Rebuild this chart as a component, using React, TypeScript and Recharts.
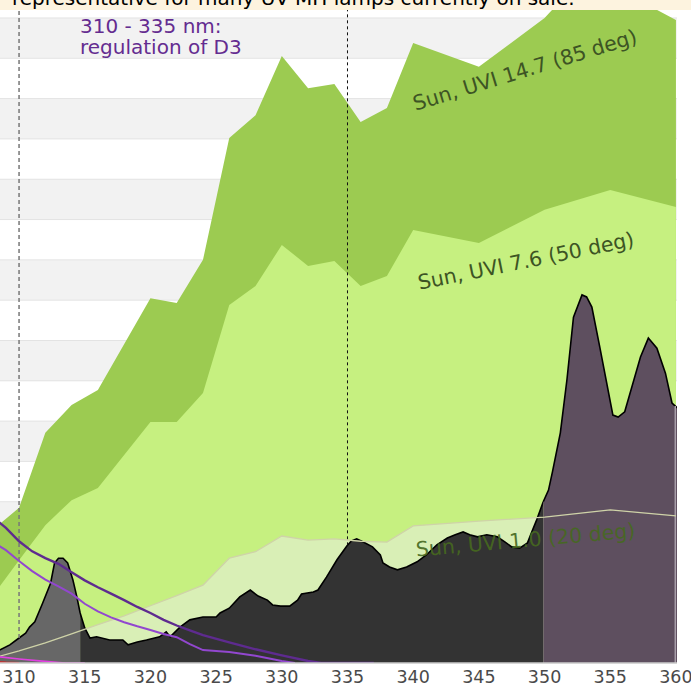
import React from "react";
import { ComposedChart, Area, Line, XAxis, YAxis, CartesianGrid, ReferenceLine } from "recharts";

// wavelength ticks (nm) and the hidden y grid (one band per unit)
const xTicks = [310, 315, 320, 325, 330, 335, 340, 345, 350, 355, 360];
const yTicks = [0, 1, 2, 3, 4, 5, 6, 7, 8, 9, 10, 11, 12, 13, 14, 15, 16];

// sun spectra
const sunHighNm = [308, 310, 312, 314, 316, 320, 322, 324, 326, 328, 330, 332, 334, 336, 338, 340, 345, 350, 352, 355, 358, 360];
const sunHighVal = [3.3, 3.85, 5.71, 6.4, 6.77, 9.05, 8.93, 10.0, 13.02, 13.59, 15.06, 14.26, 14.36, 13.42, 13.77, 15.38, 14.79, 16.0, 16.7, 17.0, 16.3, 15.95];

const sunMidNm = [308, 310, 312, 314, 316, 320, 322, 324, 326, 328, 330, 332, 334, 336, 338, 340, 345, 350, 355, 360];
const sunMidVal = [1.67, 2.55, 3.42, 4.04, 4.34, 5.98, 5.98, 6.7, 8.88, 9.35, 10.37, 9.85, 9.97, 9.35, 9.6, 10.74, 10.42, 11.24, 11.73, 11.31];

const sunLowNm = [308, 310, 312, 314, 316, 318, 320, 322, 324, 326, 328, 330, 332, 334, 336, 338, 340, 345, 350, 355, 360];
const sunLowVal = [0.12, 0.3, 0.5, 0.72, 0.95, 1.17, 1.42, 1.67, 1.93, 2.6, 2.76, 3.15, 3.05, 3.08, 3.02, 3.0, 3.4, 3.52, 3.62, 3.8, 3.65];

// UV-MH lamp spectrum
const lampNm = [
  308, 308.5, 309.3, 310, 310.5, 310.8, 311.2, 311.8, 312.4, 312.7, 313, 313.35, 313.7, 314.1, 314.4, 314.65,
  315, 315.4, 315.9, 316.9, 317.9, 318.3, 319, 319.7, 320.7, 321.2, 321.5, 322.25, 323, 324, 325, 325.3, 326,
  326.8, 327.6, 328.2, 328.9, 329.3, 329.9, 330.6, 331.2, 331.5, 332.4, 332.75, 333.4, 334.2, 334.95, 335.3,
  335.7, 336.2, 336.9, 337.5, 337.7, 338.2, 338.8, 339.5, 340.3, 341, 341.8, 342.6, 343.2, 343.8, 344.3, 344.9,
  345.6, 346.4, 347, 347.5, 348.1, 348.7, 349, 349.4, 349.9, 350.3, 350.6, 351.2, 351.7, 352.2, 352.85, 353.2,
  353.6, 354.2, 355.2, 355.6, 356.1, 357.3, 357.9, 358.55, 359.2, 359.7, 360.1,
];
const lampVal = [
  0.25, 0.32, 0.45, 0.62, 0.74, 0.89, 1.02, 1.49, 1.98, 2.48, 2.6, 2.6, 2.48, 2.06, 1.64, 1.24,
  0.87, 0.62, 0.65, 0.57, 0.57, 0.45, 0.52, 0.57, 0.65, 0.77, 0.65, 0.89, 1.07, 1.14, 1.14, 1.24, 1.36,
  1.64, 1.81, 1.66, 1.56, 1.44, 1.41, 1.41, 1.56, 1.71, 1.76, 1.81, 2.13, 2.56, 2.9, 3.03,
  3.08, 3.0, 2.88, 2.68, 2.48, 2.38, 2.31, 2.38, 2.51, 2.68, 2.93, 3.1, 3.18, 3.25, 3.18, 3.13,
  3.18, 3.13, 3.0, 2.88, 2.85, 2.98, 3.23, 3.55, 4.0, 4.29, 4.74, 5.71, 7.02, 8.58, 9.13, 9.08,
  8.83, 7.84, 6.15, 6.1, 6.23, 7.59, 8.06, 7.81, 7.19, 6.45, 6.33,
];

// action spectra
const actionANm = [308, 309, 310, 311, 312, 313, 314, 315, 316, 317, 318, 319, 320, 321, 322, 323, 324, 326, 328, 330, 332, 333, 337];
const actionAVal = [3.62, 3.35, 3.02, 2.77, 2.6, 2.46, 2.25, 2.05, 1.88, 1.72, 1.56, 1.39, 1.24, 1.07, 0.93, 0.81, 0.69, 0.51, 0.34, 0.19, 0.05, 0, 0];
const actionBNm = [308, 309, 310, 311, 312, 313, 314, 315, 316, 317, 318, 319, 320, 321, 322, 323, 324, 326, 328, 330, 331];
const actionBVal = [3.0, 2.8, 2.53, 2.28, 2.07, 1.9, 1.72, 1.47, 1.28, 1.13, 1.01, 0.91, 0.82, 0.72, 0.64, 0.47, 0.32, 0.27, 0.18, 0.05, 0];
const actionCNm = [308, 310, 312, 313.5, 315];
const actionCVal = [0.17, 0.1, 0.04, 0, 0];
const actionDNm = [308, 309, 310];
const actionDVal = [0.03, 0.01, 0];

const X_DOMAIN: [number, number] = [308.55, 360.08];
const Y_TOP = 16.446;
const UVB_END = 314.65;
const UVA_END = 349.9;

const pts = (nm: number[], v: number[]) => nm.map((x, i) => ({ nm: x, v: v[i] }));

const lampAll = pts(lampNm, lampVal);
const lampUvb = lampAll.filter((d) => d.nm <= UVB_END);
const lampUva = lampAll.filter((d) => d.nm >= UVB_END && d.nm <= UVA_END);
const lampUva1 = lampAll.filter((d) => d.nm >= UVA_END);

function lampAt(x: number) {
  for (let i = 1; i < lampAll.length; i++) {
    const a = lampAll[i - 1];
    const b = lampAll[i];
    if (x >= a.nm && x <= b.nm) return a.v + ((b.v - a.v) * (x - a.nm)) / (b.nm - a.nm);
  }
  return 0;
}

const FONT = "'DejaVu Sans', Verdana, sans-serif";

export default function App() {
  return (
    <div style={{ position: "relative", width: 691, height: 691, fontFamily: FONT, overflow: "hidden" }}>
      <style>{"body{margin:0}"}</style>
      <ComposedChart width={691} height={691} margin={{ top: 0, right: 14, bottom: 0, left: 0 }}>
        <CartesianGrid vertical={false} stroke="#e3e3e3" horizontalFill={["#ffffff", "#f2f2f2"]} />
        <XAxis
          dataKey="nm"
          type="number"
          domain={X_DOMAIN}
          allowDataOverflow
          ticks={xTicks}
          interval={0}
          tickLine={false}
          axisLine={{ stroke: "#cccccc", strokeWidth: 1.5 }}
          tick={{ fill: "#4a4a4a", fontSize: 17.5, fontFamily: FONT }}
          height={28}
        />
        <YAxis type="number" domain={[0, Y_TOP]} allowDataOverflow ticks={yTicks} hide />

        <Area data={pts(sunHighNm, sunHighVal)} dataKey="v" type="linear" fill="#9ccb51" fillOpacity={1} stroke="none" isAnimationActive={false} />
        <Area data={pts(sunMidNm, sunMidVal)} dataKey="v" type="linear" fill="#c6f080" fillOpacity={1} stroke="none" isAnimationActive={false} />
        <Area data={pts(sunLowNm, sunLowVal)} dataKey="v" type="linear" fill="#d9efb6" fillOpacity={1} stroke="none" isAnimationActive={false} />

        <ReferenceLine
          segment={[{ x: 310, y: lampAt(310) }, { x: 310, y: Y_TOP }]}
          stroke="#777777"
          strokeWidth={1.5}
          strokeDasharray="4 3"
        />
        <ReferenceLine
          segment={[{ x: 335, y: lampAt(335) }, { x: 335, y: Y_TOP }]}
          stroke="#111111"
          strokeWidth={1}
          strokeDasharray="3 3"
        />

        <Area data={lampUvb} dataKey="v" type="linear" fill="#676767" fillOpacity={1} stroke="#000000" strokeWidth={1.6} isAnimationActive={false} />
        <Area data={lampUva} dataKey="v" type="linear" fill="#333333" fillOpacity={1} stroke="#000000" strokeWidth={1.6} isAnimationActive={false} />
        <Area data={lampUva1} dataKey="v" type="linear" fill="#5e4f5f" fillOpacity={1} stroke="#000000" strokeWidth={1.6} isAnimationActive={false} />
        <ReferenceLine
          segment={[{ x: 359.95, y: 0 }, { x: 359.95, y: lampAt(359.95) }]}
          stroke="#a89fa9"
          strokeWidth={1.5}
        />

        <Line data={pts(sunLowNm, sunLowVal)} dataKey="v" type="linear" stroke="#cfd3a8" strokeWidth={1.3} dot={false} isAnimationActive={false} />
        <Line data={pts(actionDNm, actionDVal)} dataKey="v" type="linear" stroke="#e02020" strokeWidth={2} dot={false} isAnimationActive={false} />
        <Line data={pts(actionCNm, actionCVal)} dataKey="v" type="linear" stroke="#e040e0" strokeWidth={1.6} dot={false} isAnimationActive={false} />
        <Line data={pts(actionBNm, actionBVal)} dataKey="v" type="linear" stroke="#9247cf" strokeWidth={2} dot={false} isAnimationActive={false} />
        <Line data={pts(actionANm, actionAVal)} dataKey="v" type="linear" stroke="#5e2b8f" strokeWidth={2.4} dot={false} isAnimationActive={false} />
      </ComposedChart>

      <svg width={691} height={691} style={{ position: "absolute", left: 0, top: 0, pointerEvents: "none" }} fontFamily={FONT}>
        <text x={80} y={33} fill="#642c90" fontSize={20}>310 - 335 nm:</text>
        <text x={80} y={54} fill="#642c90" fontSize={20}>regulation of D3</text>
        <text transform="translate(525,70) rotate(-17)" textAnchor="middle" dominantBaseline="central" fontSize={20.5} fill="#3d5424">
          Sun, UVI 14.7 (85 deg)
        </text>
        <text transform="translate(526,261) rotate(-11.5)" textAnchor="middle" dominantBaseline="central" fontSize={20.5} fill="#3d5424">
          Sun, UVI 7.6 (50 deg)
        </text>
        <text transform="translate(525.5,540) rotate(-5)" textAnchor="middle" dominantBaseline="central" fontSize={20.5} fill="#46691f" fillOpacity={0.92}>
          Sun, UVI 1.0 (20 deg)
        </text>
      </svg>

      <div style={{ position: "absolute", left: 0, top: 0, width: 691, height: 10, background: "#fdf3df", overflow: "hidden" }}>
        <span style={{ position: "absolute", left: 12, top: -12, fontSize: 20, lineHeight: "20px", whiteSpace: "nowrap", color: "#000" }}>
          representative for many UV-MH lamps currently on sale.
        </span>
      </div>
    </div>
  );
}
